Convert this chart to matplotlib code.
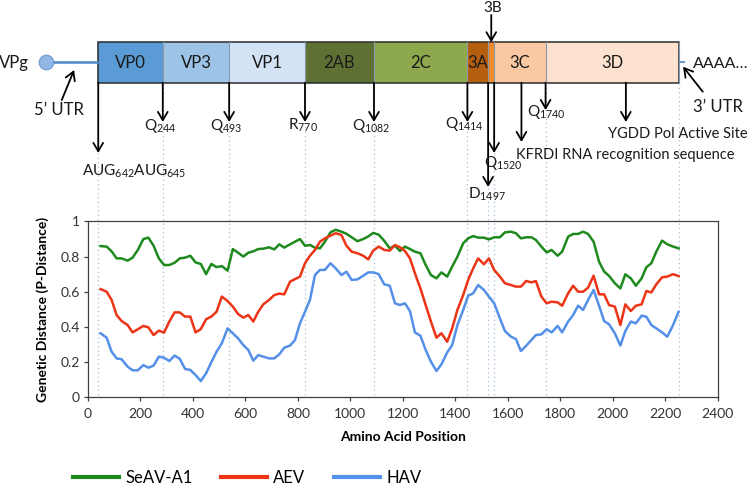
import numpy as np
import matplotlib
matplotlib.use('Agg')
import matplotlib.pyplot as plt
from matplotlib.patches import Rectangle

plt.rcParams['font.family'] = ['Lato', 'DejaVu Sans']
plt.rcParams['mathtext.fontset'] = 'custom'
plt.rcParams['mathtext.rm'] = 'Lato'
plt.rcParams['mathtext.it'] = 'Lato:italic'
plt.rcParams['mathtext.bf'] = 'Lato:bold'

# sliding window positions (amino acid) and p-distances
pos = [48, 71, 90, 109, 128, 151, 170, 190, 211, 230, 250, 270, 290, 310, 330, 350, 370, 390, 410, 430,
       450, 470, 490, 510, 532, 552, 572, 592, 611,
       630, 649, 668, 690, 710, 729, 748, 770, 789, 808, 827, 846, 865, 884, 903, 924, 944, 966, 985, 1005,
       1027, 1049, 1068, 1087, 1108, 1129, 1150, 1170, 1189, 1208,
       1227, 1246, 1267, 1287, 1307, 1328, 1347, 1369, 1388, 1408, 1430, 1449, 1468, 1487, 1509, 1528, 1548,
       1570, 1589, 1612, 1631, 1650, 1670, 1690, 1707, 1728, 1748, 1767, 1790, 1807, 1830,
       1849, 1868, 1887, 1906, 1927, 1948, 1967, 1986, 2008, 2029, 2048, 2069, 2088, 2110, 2128, 2147, 2166,
       2188, 2208, 2230, 2251]

seav = [.86, .857, .83, .79, .79, .777, .794, .838, .90, .908, .862, .79, .752, .752, .765, .79, .794, .805,
        .767, .758, .70, .758, .74, .746, .72, .843, .822, .80, .822,
        .83, .843, .845, .853, .841, .87, .851, .87, .885, .90, .862, .866, .851, .847, .885, .938, .953, .942,
        .93, .91, .888, .90, .915, .935, .925, .89, .847, .862, .832, .857,
        .843, .828, .819, .752, .695, .676, .71, .686, .743, .80, .876, .904, .917, .908, .908, .898, .91, .91,
        .938, .942, .933, .904, .91, .91, .895, .857, .824, .838, .805, .828, .914,
        .929, .929, .942, .929, .885, .77, .715, .69, .648, .619, .699, .676, .634, .676, .739, .762, .828,
        .891, .87, .857, .847]

aev = [.615, .60, .553, .467, .433, .41, .368, .386, .405, .397, .353, .378, .367, .43, .482, .482, .458, .458,
       .368, .387, .443, .458, .486, .572, .547, .515, .473, .452, .467,
       .43, .486, .528, .553, .581, .589, .585, .657, .672, .686, .762, .805, .838, .885, .904, .919, .933, .923,
       .862, .828, .819, .805, .784, .834, .857, .838, .834, .866, .853, .832,
       .79, .705, .619, .524, .43, .338, .363, .315, .391, .496, .581, .667, .733, .79, .756, .79, .724, .686,
       .648, .638, .629, .629, .661, .653, .661, .572, .534, .543, .539, .52, .591,
       .634, .60, .60, .623, .691, .585, .585, .524, .515, .41, .528, .49, .52, .528, .604, .596, .642, .682,
       .686, .70, .689]

hav = [.363, .338, .258, .22, .215, .173, .152, .152, .182, .167, .179, .23, .224, .205, .236, .217, .16, .154,
       .125, .091, .135, .198, .258, .306, .391, .363, .334, .296, .268,
       .207, .239, .23, .22, .22, .243, .281, .293, .325, .42, .486, .553, .695, .724, .724, .762, .733, .695,
       .714, .667, .67, .691, .71, .71, .70, .642, .634, .534, .524, .534,
       .49, .368, .349, .268, .201, .148, .186, .254, .296, .41, .496, .577, .591, .638, .61, .572, .534, .448,
       .376, .344, .33, .262, .292, .325, .353, .357, .386, .368, .405, .368, .43,
       .467, .52, .496, .553, .61, .52, .433, .414, .363, .293, .376, .43, .42, .463, .458, .41, .391, .368,
       .344, .41, .486]

# genome map
seg_names = ['VP0', 'VP3', 'VP1', '2AB', '2C', '3A', '3B', '3C', '3D']
seg_start = [39, 285, 538, 827, 1090, 1446, 1525, 1548, 1744]
seg_end = [285, 538, 827, 1090, 1446, 1525, 1548, 1744, 2253]
seg_colors = ['#5b9bd5', '#9dc3e6', '#d3e2f4', '#5f7035', '#8ea84e', '#b65e10', '#f08a2c', '#fac8a2', '#fce2cf']

# cleavage sites / motifs: (label, position, arrow tip y, label x, label baseline y)
sites = [
    (r'AUG$_{\mathrm{642}}$AUG$_{\mathrm{645}}$', 39, 153, 177, 176),
    (r'Q$_{\mathrm{244}}$', 285, 122, 277, 129.5),
    (r'Q$_{\mathrm{493}}$', 538, 122, 528, 129.5),
    (r'R$_{\mathrm{770}}$', 827, 122, 821, 129.5),
    (r'Q$_{\mathrm{1082}}$', 1090, 122, 1080, 129.5),
    (r'Q$_{\mathrm{1414}}$', 1446, 122, 1436, 128),
    (r'D$_{\mathrm{1497}}$', 1525, 187, 1520, 199),
    (r'Q$_{\mathrm{1520}}$', 1548, 153, 1582, 167),
    (r'Q$_{\mathrm{1740}}$', 1744, 110, 1747, 116),
]
motifs = [
    ('KFRDI RNA recognition sequence', 1652, 142, 1630, 159, 'left'),
    ('YGDD Pol Active Site', 2050, 122, 2248, 138, 'center'),
]

fig = plt.figure(figsize=(7.5, 4.86), dpi=100)
fig.patch.set_facecolor('white')

ax_l, ax_b, ax_w, ax_h = 88 / 750, 1 - 397 / 486, (717.7 - 88) / 750, (397 - 221.5) / 486
ax = fig.add_axes([ax_l, ax_b, ax_w, ax_h])
ax.set_zorder(2)
ax.patch.set_visible(False)

# overlay for the genome map, same x scale as the plot
ov = fig.add_axes([0, 0, 1, 1])
ov.set_zorder(1)
ov.set_xlim(-ax_l / ax_w * 2400, (1 - ax_l) / ax_w * 2400)
ov.set_ylim(486, 0)
ov.axis('off')

bar_top, bar_bot = 42.3, 82.7
for name, s, e, c in zip(seg_names, seg_start, seg_end, seg_colors):
    ov.add_patch(Rectangle((s, bar_top), e - s, bar_bot - bar_top, facecolor=c, edgecolor='none'))
    ov.plot([e, e], [bar_top, bar_bot], color='#8899aa', lw=0.8)
    if name != '3B':
        ov.text((s + e) / 2, 68.3, name, ha='center', va='baseline', fontsize=12, color='#1a1a1a')
ov.add_patch(Rectangle((seg_start[0], bar_top), seg_end[-1] - seg_start[0], bar_bot - bar_top,
                       facecolor='none', edgecolor='#2b2b2b', lw=1.1))

# dotted guide lines
for x in seg_start + [seg_end[-1]]:
    ov.plot([x, x], [bar_bot, 397], color='#a9bedb', lw=0.9, ls=(0, (1, 2.5)))

# 5' and 3' ends
ov.plot([-161, seg_start[0]], [62, 62], color='#4f86c6', lw=1.8)
ov.scatter([-161], [62], s=110, color='#92b8e6', edgecolors='#6d9ad2', linewidths=0.8, zorder=5)
ov.text(-225, 68.3, 'VPg', ha='right', va='baseline', fontsize=12, color='#1a1a1a')
ov.text(-110, 115, '5\u2019 UTR', ha='center', va='baseline', fontsize=12, color='#1a1a1a')
ov.plot([seg_end[-1] + 2, seg_end[-1] + 20], [62, 62], color='#6d9ad2', lw=1.5)
ov.text(2305, 67.7, 'AAAA\u2026', ha='left', va='baseline', fontsize=11.5, color='#1a1a1a')
ov.text(2400, 111.7, '3\u2019 UTR', ha='center', va='baseline', fontsize=12, color='#1a1a1a')

arrow = dict(arrowstyle='->,head_width=0.35,head_length=0.6', color='black', lw=1.3,
             shrinkA=0, shrinkB=0, mutation_scale=10)
ov.annotate('', xy=(-53, 70), xytext=(-100, 100), arrowprops=arrow)
ov.annotate('', xy=(2268, 66.7), xytext=(2343, 91.7), arrowprops=arrow)
ov.annotate('', xy=(1537, bar_top), xytext=(1537, 15), arrowprops=arrow)
ov.text(1543, 12.3, '3B', ha='center', va='baseline', fontsize=11, color='#1a1a1a')

for label, x, tip, lx, ly in sites:
    ov.annotate('', xy=(x, tip), xytext=(x, bar_bot), arrowprops=arrow)
    ov.text(lx, ly, label, ha='center', va='baseline', fontsize=11, color='#1a1a1a')
for label, x, tip, lx, ly, ha in motifs:
    ov.annotate('', xy=(x, tip), xytext=(x, bar_bot), arrowprops=arrow)
    ov.text(lx, ly, label, ha=ha, va='baseline', fontsize=10.5, color='#1a1a1a')

# distance plot
ax.plot(pos, seav, color='#1e8a1e', lw=1.8, label='SeAV-A1')
ax.plot(pos, aev, color='#ec3417', lw=1.8, label='AEV')
ax.plot(pos, hav, color='#5590e8', lw=1.8, label='HAV')

ax.set_xlim(0, 2400)
ax.set_ylim(0, 1)
ax.set_xticks(np.arange(0, 2401, 200))
ax.set_yticks([0, 0.2, 0.4, 0.6, 0.8, 1])
ax.set_yticklabels(['0', '0.2', '0.4', '0.6', '0.8', '1'])
ax.tick_params(direction='out', length=3, width=0.9, color='#404040', labelsize=10,
               labelcolor='#333333', pad=3)
ax.tick_params(axis='x', pad=5)
for sp in ax.spines.values():
    sp.set_color('#404040')
    sp.set_linewidth(0.9)
ax.set_xlabel('Amino Acid Position', fontsize=10, fontweight='bold', labelpad=8)
ax.set_ylabel('Genetic Distance (P-Distance)', fontsize=10, fontweight='bold', labelpad=8)

leg = fig.legend(loc='center left', bbox_to_anchor=(72.7 / 750, 1 - 478 / 486), ncol=3,
                 frameon=False, fontsize=12, handlelength=2.75, handletextpad=0.4,
                 columnspacing=1.7, borderpad=0, borderaxespad=0)
for line in leg.get_lines():
    line.set_linewidth(3)

plt.savefig('out.png', dpi=100)
